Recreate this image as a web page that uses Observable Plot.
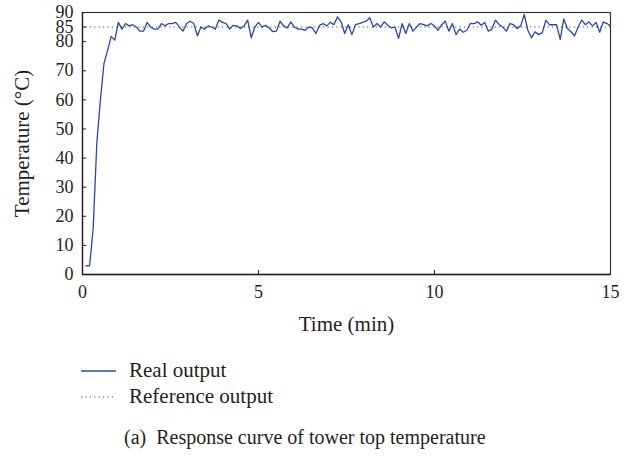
<!DOCTYPE html>
<html>
<head>
<meta charset="utf-8">
<script src="https://cdn.jsdelivr.net/npm/d3@7"></script>
<script src="https://cdn.jsdelivr.net/npm/@observablehq/plot@0.6"></script>
<style>
  html, body { margin: 0; padding: 0; background: #fff; }
  #wrap { position: relative; width: 633px; height: 456px; font-family: "Liberation Serif", "Times New Roman", serif; color: #231f20; }
  #chart { position: absolute; left: 0; top: 0; }
  .leg { position: absolute; font-size: 21px; line-height: 1; white-space: nowrap; }
  .cap { font-size: 20px; }
  .sw { position: absolute; }
</style>
</head>
<body>
<div id="wrap">
  <div id="chart"></div>
</div>
<script>
// ---- data ----
const seriesNames = ["Real output", "Reference output"];
const captionText = "(a)\u2002Response curve of tower top temperature";
const xLabel = "Time (min)";
const yLabel = "Temperature (\u00B0C)";
const xTicks = [0, 5, 10, 15];
const yTicks = [0, 10, 20, 30, 40, 50, 60, 70, 80, 85, 90];
const referenceValue = 85;
const timeStart = 0.1;   // first sample (min)
const timeEnd = 15.0;    // last sample (min)
// Real output temperature samples (°C), evenly sampled from timeStart to timeEnd
const realOutput = [
  3, 3, 16, 45, 60, 72.5, 77,
  81.8, 80.5, 86.6, 84.3, 86.2, 85.4, 85.8, 85.0, 83.6, 83.6,
  86.6, 85.0, 84.3, 84.3, 86.2, 85.4, 86.2, 86.2, 86.6, 85.0,
  83.6, 86.2, 87.0, 86.2, 82.0, 85.0, 84.3, 85.4, 85.0, 84.3,
  87.4, 86.6, 86.2, 84.3, 85.6, 85.4, 84.5, 85.4, 87.4, 81.3,
  85.0, 86.6,
  85.0, 85.6, 84.7, 83.4, 83.6, 87.0, 85.4, 84.7, 86.8, 85.0,
  84.3, 84.3, 83.9, 85.0, 84.7, 82.8, 85.6, 86.2, 85.4, 86.6,
  85.8, 88.5, 86.8, 82.8, 85.8, 82.4, 85.8, 86.2, 86.6, 87.0,
  88.2, 85.0, 86.2, 85.0, 86.8, 85.6, 84.7, 85.0, 81.1, 86.2,
  82.8, 86.2, 83.6, 85.0, 86.2, 85.8, 85.4, 86.2, 85.4,
  83.9, 85.8, 87.0, 83.6, 86.2, 82.4, 84.3, 83.2, 83.9, 86.2,
  86.2, 86.8, 85.6, 86.6, 83.6, 84.3, 87.4, 85.8, 85.0, 83.6,
  86.2, 85.8, 84.5, 85.4, 89.3, 83.9, 81.3, 83.4, 82.4, 83.0,
  87.4, 85.8, 85.8, 85.8, 80.8, 87.8, 84.5, 83.4, 82.0, 85.0,
  87.4, 85.8, 86.8, 85.4, 86.6, 83.2, 86.8, 86.2, 85.4
];
const sampleTimes = d3.range(realOutput.length).map(i => timeStart + i * (timeEnd - timeStart) / (realOutput.length - 1));
const realData = realOutput.map((v, i) => ({t: sampleTimes[i], v}));

const blue = "#2b48a8";
const ink = "#231f20";
const font = "'Liberation Serif', 'Times New Roman', serif";

const plot = Plot.plot({
  width: 633,
  height: 340,
  marginTop: 12,
  marginBottom: 66,
  marginLeft: 82,
  marginRight: 23,
  style: {fontFamily: font, fontSize: "18px", color: ink, background: "transparent", overflow: "visible"},
  x: {domain: [0, 15]},
  y: {domain: [0, 90]},
  marks: [
    Plot.ruleY([referenceValue], {x1: 0.1, x2: 15, stroke: "#444", strokeWidth: 1.1, strokeDasharray: "1.2,3.2"}),
    Plot.line(realData, {x: "t", y: "v", stroke: blue, strokeWidth: 1.3}),
    Plot.tickX(xTicks.slice(1, -1), {x: d => d, stroke: ink, insetTop: 258}),
    Plot.tickY(yTicks.slice(1, -1), {y: d => d, stroke: ink, insetRight: 524}),
    Plot.frame({stroke: "#333", strokeWidth: 1.2}),
    Plot.axisX({ticks: xTicks, tickSize: 0, tickPadding: 11, label: null, fontSize: 18}),
    Plot.axisY({ticks: yTicks, tickSize: 0, tickPadding: 9, label: null, fontSize: 18}),
    Plot.ruleX([0], {stroke: ink, strokeWidth: 1.3}),
    Plot.ruleY([0], {stroke: ink, strokeWidth: 1.3}),
    Plot.text([xLabel], {frameAnchor: "bottom", dy: 50, lineAnchor: "middle", textAnchor: "middle", text: d => d, fontSize: 21, fill: ink}),
    Plot.text([yLabel], {frameAnchor: "left", dx: -60, rotate: -90, textAnchor: "middle", lineAnchor: "middle", text: d => d, fontSize: 21, fill: ink})
  ]
});
document.getElementById("chart").appendChild(plot);

// legend and caption
const wrap = document.getElementById("wrap");
function addSwatch(top, dash, color) {
  const ns = "http://www.w3.org/2000/svg";
  const s = document.createElementNS(ns, "svg");
  s.setAttribute("class", "sw");
  s.setAttribute("width", 40); s.setAttribute("height", 6);
  s.style.left = "80px"; s.style.top = (top - 3) + "px";
  const l = document.createElementNS(ns, "line");
  l.setAttribute("x1", 1); l.setAttribute("x2", 36); l.setAttribute("y1", 3); l.setAttribute("y2", 3);
  l.setAttribute("stroke", color); l.setAttribute("stroke-width", dash ? 1.1 : 1.3);
  if (dash) l.setAttribute("stroke-dasharray", "1.2,3.2");
  s.appendChild(l);
  wrap.appendChild(s);
}
function addText(txt, left, top, cls) {
  const d = document.createElement("div");
  d.className = "leg" + (cls ? " " + cls : "");
  d.textContent = txt;
  d.style.left = left + "px"; d.style.top = top + "px";
  wrap.appendChild(d);
}
addSwatch(371, false, blue);
addText(seriesNames[0], 129, 360);
addSwatch(397, true, "#444");
addText(seriesNames[1], 129, 386);
addText(captionText, 124, 427, "cap");
</script>
</body>
</html>
